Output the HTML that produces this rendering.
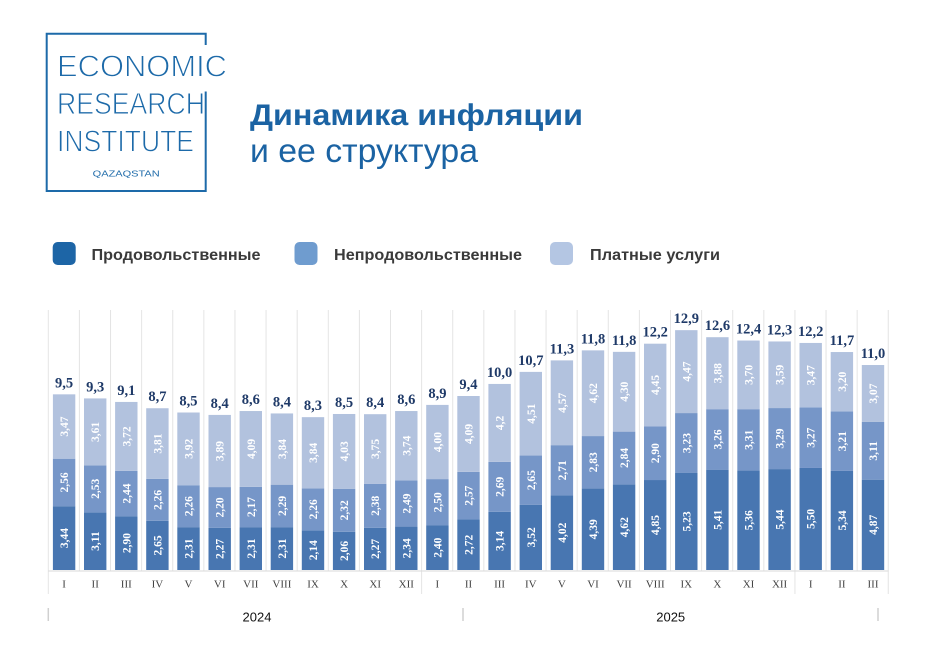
<!DOCTYPE html>
<html><head><meta charset="utf-8"><style>
html,body{margin:0;padding:0;background:#fff;}
svg{display:block;}
.d{fill:#4876b1}.m{fill:#7696c8}.l{fill:#b2c2de}
.s{font-family:"Liberation Serif",serif;font-weight:bold;font-size:11.5px;fill:#fff;text-anchor:middle}
.t{font-family:"Liberation Serif",serif;font-weight:bold;font-size:14.5px;fill:#1f3a68;text-anchor:middle}
.mo{font-family:"Liberation Serif",serif;font-size:11px;fill:#404040;text-anchor:middle}
.lg{font-family:"Liberation Sans",sans-serif;font-weight:bold;font-size:16px;fill:#3a3a3a}
.logo{font-family:"Liberation Sans",sans-serif;fill:#1d6aa9;stroke:#fff;stroke-width:0.9px}
</style></head><body>
<svg width="925" height="666" viewBox="0 0 925 666" xmlns="http://www.w3.org/2000/svg">
<rect width="925" height="666" fill="#fff"/>
<!-- logo -->
<g stroke="#1d6aa9" stroke-width="2" fill="none">
<path d="M46.7 32.7 V192 M45.7 33.7 H206.7 M45.7 191 H206.7 M205.7 32.7 V45 M205.7 91.5 V192"/>
</g>
<text class="logo" x="57" y="76.7" font-size="30.5" textLength="170" lengthAdjust="spacingAndGlyphs">ECONOMIC</text>
<text class="logo" x="57" y="114" font-size="30.5" textLength="148" lengthAdjust="spacingAndGlyphs">RESEARCH</text>
<text class="logo" x="57" y="151.7" font-size="30.5" textLength="137" lengthAdjust="spacingAndGlyphs">INSTITUTE</text>
<text x="92.7" y="176.7" font-family="Liberation Sans, sans-serif" font-size="8.5" fill="#1d6aa9" textLength="67" lengthAdjust="spacingAndGlyphs">QAZAQSTAN</text>
<!-- title -->
<text x="250" y="125" font-family="Liberation Sans, sans-serif" font-weight="bold" font-size="30" fill="#1b63a3" textLength="333" lengthAdjust="spacingAndGlyphs">Динамика инфляции</text>
<text x="250" y="162" font-family="Liberation Sans, sans-serif" font-size="33" fill="#1b63a3" textLength="228" lengthAdjust="spacingAndGlyphs">и ее структура</text>
<!-- legend -->
<rect x="52.7" y="242" width="23" height="23" rx="5" fill="#1d65a6"/>
<text class="lg" x="91.5" y="260" textLength="169" lengthAdjust="spacingAndGlyphs">Продовольственные</text>
<rect x="294.5" y="242" width="23" height="23" rx="5" fill="#6f9ccf"/>
<text class="lg" x="334" y="260" textLength="188" lengthAdjust="spacingAndGlyphs">Непродовольственные</text>
<rect x="550" y="242" width="23" height="23" rx="5" fill="#b4c6e3"/>
<text class="lg" x="590" y="260" textLength="130" lengthAdjust="spacingAndGlyphs">Платные услуги</text>
<!-- gridlines -->
<path stroke="#e4e4e4" stroke-width="1" fill="none" d="M48.3 310V594 M79.41 310V571 M110.52 310V571 M141.63 310V571 M172.74 310V571 M203.85 310V571 M234.96 310V571 M266.07 310V571 M297.18 310V571 M328.29 310V571 M359.4 310V571 M390.51 310V571 M421.62 310V594 M452.73 310V571 M483.84 310V571 M514.95 310V571 M546.06 310V571 M577.17 310V571 M608.28 310V571 M639.39 310V571 M670.5 310V571 M701.61 310V571 M732.72 310V571 M763.83 310V571 M794.94 310V594 M826.05 310V571 M857.16 310V571 M888.27 310V594"/>
<path stroke="#dadada" stroke-width="1" d="M48.3 571H888.3"/>
<!-- bars -->
<g transform="translate(52.9,0)"><rect class="d" x="0" y="506.19" width="22.4" height="63.81"/><rect class="m" x="0" y="458.70" width="22.4" height="47.49"/><rect class="l" x="0" y="394.33" width="22.4" height="64.37"/><text class="s" transform="translate(11.2,538.09) rotate(-90)" dy="0.35em">3,44</text><text class="s" transform="translate(11.2,482.45) rotate(-90)" dy="0.35em">2,56</text><text class="s" transform="translate(11.2,426.52) rotate(-90)" dy="0.35em">3,47</text><text class="t" x="11.2" y="387.3">9,5</text><text class="mo" x="11.2" y="587.7">I</text></g>
<g transform="translate(84.0,0)"><rect class="d" x="0" y="512.31" width="22.4" height="57.69"/><rect class="m" x="0" y="465.38" width="22.4" height="46.93"/><rect class="l" x="0" y="398.41" width="22.4" height="66.97"/><text class="s" transform="translate(11.2,541.16) rotate(-90)" dy="0.35em">3,11</text><text class="s" transform="translate(11.2,488.85) rotate(-90)" dy="0.35em">2,53</text><text class="s" transform="translate(11.2,431.90) rotate(-90)" dy="0.35em">3,61</text><text class="t" x="11.2" y="391.4">9,3</text><text class="mo" x="11.2" y="587.7">II</text></g>
<g transform="translate(115.1,0)"><rect class="d" x="0" y="516.20" width="22.4" height="53.80"/><rect class="m" x="0" y="470.94" width="22.4" height="45.26"/><rect class="l" x="0" y="401.94" width="22.4" height="69.00"/><text class="s" transform="translate(11.2,543.10) rotate(-90)" dy="0.35em">2,90</text><text class="s" transform="translate(11.2,493.57) rotate(-90)" dy="0.35em">2,44</text><text class="s" transform="translate(11.2,436.44) rotate(-90)" dy="0.35em">3,72</text><text class="t" x="11.2" y="394.9">9,1</text><text class="mo" x="11.2" y="587.7">III</text></g>
<g transform="translate(146.2,0)"><rect class="d" x="0" y="520.84" width="22.4" height="49.16"/><rect class="m" x="0" y="478.92" width="22.4" height="41.92"/><rect class="l" x="0" y="408.24" width="22.4" height="70.68"/><text class="s" transform="translate(11.2,545.42) rotate(-90)" dy="0.35em">2,65</text><text class="s" transform="translate(11.2,499.88) rotate(-90)" dy="0.35em">2,26</text><text class="s" transform="translate(11.2,443.58) rotate(-90)" dy="0.35em">3,81</text><text class="t" x="11.2" y="401.2">8,7</text><text class="mo" x="11.2" y="587.7">IV</text></g>
<g transform="translate(177.3,0)"><rect class="d" x="0" y="527.15" width="22.4" height="42.85"/><rect class="m" x="0" y="485.23" width="22.4" height="41.92"/><rect class="l" x="0" y="412.51" width="22.4" height="72.72"/><text class="s" transform="translate(11.2,548.57) rotate(-90)" dy="0.35em">2,31</text><text class="s" transform="translate(11.2,506.19) rotate(-90)" dy="0.35em">2,26</text><text class="s" transform="translate(11.2,448.87) rotate(-90)" dy="0.35em">3,92</text><text class="t" x="11.2" y="405.5">8,5</text><text class="mo" x="11.2" y="587.7">V</text></g>
<g transform="translate(208.5,0)"><rect class="d" x="0" y="527.89" width="22.4" height="42.11"/><rect class="m" x="0" y="487.08" width="22.4" height="40.81"/><rect class="l" x="0" y="414.92" width="22.4" height="72.16"/><text class="s" transform="translate(11.2,548.95) rotate(-90)" dy="0.35em">2,27</text><text class="s" transform="translate(11.2,507.49) rotate(-90)" dy="0.35em">2,20</text><text class="s" transform="translate(11.2,451.00) rotate(-90)" dy="0.35em">3,89</text><text class="t" x="11.2" y="407.9">8,4</text><text class="mo" x="11.2" y="587.7">VI</text></g>
<g transform="translate(239.6,0)"><rect class="d" x="0" y="527.15" width="22.4" height="42.85"/><rect class="m" x="0" y="486.90" width="22.4" height="40.25"/><rect class="l" x="0" y="411.03" width="22.4" height="75.87"/><text class="s" transform="translate(11.2,548.57) rotate(-90)" dy="0.35em">2,31</text><text class="s" transform="translate(11.2,507.03) rotate(-90)" dy="0.35em">2,17</text><text class="s" transform="translate(11.2,448.97) rotate(-90)" dy="0.35em">4,09</text><text class="t" x="11.2" y="404.0">8,6</text><text class="mo" x="11.2" y="587.7">VII</text></g>
<g transform="translate(270.7,0)"><rect class="d" x="0" y="527.15" width="22.4" height="42.85"/><rect class="m" x="0" y="484.67" width="22.4" height="42.48"/><rect class="l" x="0" y="413.44" width="22.4" height="71.23"/><text class="s" transform="translate(11.2,548.57) rotate(-90)" dy="0.35em">2,31</text><text class="s" transform="translate(11.2,505.91) rotate(-90)" dy="0.35em">2,29</text><text class="s" transform="translate(11.2,449.06) rotate(-90)" dy="0.35em">3,84</text><text class="t" x="11.2" y="406.4">8,4</text><text class="mo" x="11.2" y="587.7">VIII</text></g>
<g transform="translate(301.8,0)"><rect class="d" x="0" y="530.30" width="22.4" height="39.70"/><rect class="m" x="0" y="488.38" width="22.4" height="41.92"/><rect class="l" x="0" y="417.15" width="22.4" height="71.23"/><text class="s" transform="translate(11.2,550.15) rotate(-90)" dy="0.35em">2,14</text><text class="s" transform="translate(11.2,509.34) rotate(-90)" dy="0.35em">2,26</text><text class="s" transform="translate(11.2,452.77) rotate(-90)" dy="0.35em">3,84</text><text class="t" x="11.2" y="410.2">8,3</text><text class="mo" x="11.2" y="587.7">IX</text></g>
<g transform="translate(332.9,0)"><rect class="d" x="0" y="531.79" width="22.4" height="38.21"/><rect class="m" x="0" y="488.75" width="22.4" height="43.04"/><rect class="l" x="0" y="413.99" width="22.4" height="74.76"/><text class="s" transform="translate(11.2,550.90) rotate(-90)" dy="0.35em">2,06</text><text class="s" transform="translate(11.2,510.27) rotate(-90)" dy="0.35em">2,32</text><text class="s" transform="translate(11.2,451.37) rotate(-90)" dy="0.35em">4,03</text><text class="t" x="11.2" y="407.0">8,5</text><text class="mo" x="11.2" y="587.7">X</text></g>
<g transform="translate(364.0,0)"><rect class="d" x="0" y="527.89" width="22.4" height="42.11"/><rect class="m" x="0" y="483.74" width="22.4" height="44.15"/><rect class="l" x="0" y="414.18" width="22.4" height="69.56"/><text class="s" transform="translate(11.2,548.95) rotate(-90)" dy="0.35em">2,27</text><text class="s" transform="translate(11.2,505.82) rotate(-90)" dy="0.35em">2,38</text><text class="s" transform="translate(11.2,448.96) rotate(-90)" dy="0.35em">3,75</text><text class="t" x="11.2" y="407.2">8,4</text><text class="mo" x="11.2" y="587.7">XI</text></g>
<g transform="translate(395.1,0)"><rect class="d" x="0" y="526.59" width="22.4" height="43.41"/><rect class="m" x="0" y="480.40" width="22.4" height="46.19"/><rect class="l" x="0" y="411.03" width="22.4" height="69.37"/><text class="s" transform="translate(11.2,548.30) rotate(-90)" dy="0.35em">2,34</text><text class="s" transform="translate(11.2,503.50) rotate(-90)" dy="0.35em">2,49</text><text class="s" transform="translate(11.2,445.72) rotate(-90)" dy="0.35em">3,74</text><text class="t" x="11.2" y="404.0">8,6</text><text class="mo" x="11.2" y="587.7">XII</text></g>
<g transform="translate(426.2,0)"><rect class="d" x="0" y="525.48" width="22.4" height="44.52"/><rect class="m" x="0" y="479.10" width="22.4" height="46.38"/><rect class="l" x="0" y="404.90" width="22.4" height="74.20"/><text class="s" transform="translate(11.2,547.74) rotate(-90)" dy="0.35em">2,40</text><text class="s" transform="translate(11.2,502.29) rotate(-90)" dy="0.35em">2,50</text><text class="s" transform="translate(11.2,442.00) rotate(-90)" dy="0.35em">4,00</text><text class="t" x="11.2" y="397.9">8,9</text><text class="mo" x="11.2" y="587.7">I</text></g>
<g transform="translate(457.3,0)"><rect class="d" x="0" y="519.54" width="22.4" height="50.46"/><rect class="m" x="0" y="471.87" width="22.4" height="47.67"/><rect class="l" x="0" y="396.00" width="22.4" height="75.87"/><text class="s" transform="translate(11.2,544.77) rotate(-90)" dy="0.35em">2,72</text><text class="s" transform="translate(11.2,495.71) rotate(-90)" dy="0.35em">2,57</text><text class="s" transform="translate(11.2,433.94) rotate(-90)" dy="0.35em">4,09</text><text class="t" x="11.2" y="389.0">9,4</text><text class="mo" x="11.2" y="587.7">II</text></g>
<g transform="translate(488.4,0)"><rect class="d" x="0" y="511.75" width="22.4" height="58.25"/><rect class="m" x="0" y="461.85" width="22.4" height="49.90"/><rect class="l" x="0" y="383.94" width="22.4" height="77.91"/><text class="s" transform="translate(11.2,540.88) rotate(-90)" dy="0.35em">3,14</text><text class="s" transform="translate(11.2,486.80) rotate(-90)" dy="0.35em">2,69</text><text class="s" transform="translate(11.2,422.90) rotate(-90)" dy="0.35em">4,2</text><text class="t" x="11.2" y="376.9">10,0</text><text class="mo" x="11.2" y="587.7">III</text></g>
<g transform="translate(519.6,0)"><rect class="d" x="0" y="504.70" width="22.4" height="65.30"/><rect class="m" x="0" y="455.55" width="22.4" height="49.15"/><rect class="l" x="0" y="371.89" width="22.4" height="83.66"/><text class="s" transform="translate(11.2,537.35) rotate(-90)" dy="0.35em">3,52</text><text class="s" transform="translate(11.2,480.13) rotate(-90)" dy="0.35em">2,65</text><text class="s" transform="translate(11.2,413.72) rotate(-90)" dy="0.35em">4,51</text><text class="t" x="11.2" y="364.9">10,7</text><text class="mo" x="11.2" y="587.7">IV</text></g>
<g transform="translate(550.7,0)"><rect class="d" x="0" y="495.43" width="22.4" height="74.57"/><rect class="m" x="0" y="445.16" width="22.4" height="50.27"/><rect class="l" x="0" y="360.38" width="22.4" height="84.78"/><text class="s" transform="translate(11.2,532.72) rotate(-90)" dy="0.35em">4,02</text><text class="s" transform="translate(11.2,470.30) rotate(-90)" dy="0.35em">2,71</text><text class="s" transform="translate(11.2,402.77) rotate(-90)" dy="0.35em">4,57</text><text class="t" x="11.2" y="353.4">11,3</text><text class="mo" x="11.2" y="587.7">V</text></g>
<g transform="translate(581.8,0)"><rect class="d" x="0" y="488.57" width="22.4" height="81.43"/><rect class="m" x="0" y="436.07" width="22.4" height="52.50"/><rect class="l" x="0" y="350.37" width="22.4" height="85.70"/><text class="s" transform="translate(11.2,529.29) rotate(-90)" dy="0.35em">4,39</text><text class="s" transform="translate(11.2,462.32) rotate(-90)" dy="0.35em">2,83</text><text class="s" transform="translate(11.2,393.22) rotate(-90)" dy="0.35em">4,62</text><text class="t" x="11.2" y="343.4">11,8</text><text class="mo" x="11.2" y="587.7">VI</text></g>
<g transform="translate(612.9,0)"><rect class="d" x="0" y="484.30" width="22.4" height="85.70"/><rect class="m" x="0" y="431.62" width="22.4" height="52.68"/><rect class="l" x="0" y="351.85" width="22.4" height="79.77"/><text class="s" transform="translate(11.2,527.15) rotate(-90)" dy="0.35em">4,62</text><text class="s" transform="translate(11.2,457.96) rotate(-90)" dy="0.35em">2,84</text><text class="s" transform="translate(11.2,391.74) rotate(-90)" dy="0.35em">4,30</text><text class="t" x="11.2" y="344.9">11,8</text><text class="mo" x="11.2" y="587.7">VII</text></g>
<g transform="translate(644.0,0)"><rect class="d" x="0" y="480.03" width="22.4" height="89.97"/><rect class="m" x="0" y="426.24" width="22.4" height="53.79"/><rect class="l" x="0" y="343.69" width="22.4" height="82.55"/><text class="s" transform="translate(11.2,525.02) rotate(-90)" dy="0.35em">4,85</text><text class="s" transform="translate(11.2,453.14) rotate(-90)" dy="0.35em">2,90</text><text class="s" transform="translate(11.2,384.97) rotate(-90)" dy="0.35em">4,45</text><text class="t" x="11.2" y="336.7">12,2</text><text class="mo" x="11.2" y="587.7">VIII</text></g>
<g transform="translate(675.1,0)"><rect class="d" x="0" y="472.98" width="22.4" height="97.02"/><rect class="m" x="0" y="413.07" width="22.4" height="59.91"/><rect class="l" x="0" y="330.15" width="22.4" height="82.92"/><text class="s" transform="translate(11.2,521.49) rotate(-90)" dy="0.35em">5,23</text><text class="s" transform="translate(11.2,443.03) rotate(-90)" dy="0.35em">3,23</text><text class="s" transform="translate(11.2,371.61) rotate(-90)" dy="0.35em">4,47</text><text class="t" x="11.2" y="323.2">12,9</text><text class="mo" x="11.2" y="587.7">IX</text></g>
<g transform="translate(706.2,0)"><rect class="d" x="0" y="469.64" width="22.4" height="100.36"/><rect class="m" x="0" y="409.17" width="22.4" height="60.47"/><rect class="l" x="0" y="337.20" width="22.4" height="71.97"/><text class="s" transform="translate(11.2,519.82) rotate(-90)" dy="0.35em">5,41</text><text class="s" transform="translate(11.2,439.41) rotate(-90)" dy="0.35em">3,26</text><text class="s" transform="translate(11.2,373.19) rotate(-90)" dy="0.35em">3,88</text><text class="t" x="11.2" y="330.2">12,6</text><text class="mo" x="11.2" y="587.7">X</text></g>
<g transform="translate(737.3,0)"><rect class="d" x="0" y="470.57" width="22.4" height="99.43"/><rect class="m" x="0" y="409.17" width="22.4" height="61.40"/><rect class="l" x="0" y="340.54" width="22.4" height="68.63"/><text class="s" transform="translate(11.2,520.29) rotate(-90)" dy="0.35em">5,36</text><text class="s" transform="translate(11.2,439.87) rotate(-90)" dy="0.35em">3,31</text><text class="s" transform="translate(11.2,374.86) rotate(-90)" dy="0.35em">3,70</text><text class="t" x="11.2" y="333.5">12,4</text><text class="mo" x="11.2" y="587.7">XI</text></g>
<g transform="translate(768.4,0)"><rect class="d" x="0" y="469.09" width="22.4" height="100.91"/><rect class="m" x="0" y="408.06" width="22.4" height="61.03"/><rect class="l" x="0" y="341.46" width="22.4" height="66.60"/><text class="s" transform="translate(11.2,519.55) rotate(-90)" dy="0.35em">5,44</text><text class="s" transform="translate(11.2,438.58) rotate(-90)" dy="0.35em">3,29</text><text class="s" transform="translate(11.2,374.76) rotate(-90)" dy="0.35em">3,59</text><text class="t" x="11.2" y="334.5">12,3</text><text class="mo" x="11.2" y="587.7">XII</text></g>
<g transform="translate(799.5,0)"><rect class="d" x="0" y="467.97" width="22.4" height="102.03"/><rect class="m" x="0" y="407.32" width="22.4" height="60.65"/><rect class="l" x="0" y="342.95" width="22.4" height="64.37"/><text class="s" transform="translate(11.2,518.99) rotate(-90)" dy="0.35em">5,50</text><text class="s" transform="translate(11.2,437.65) rotate(-90)" dy="0.35em">3,27</text><text class="s" transform="translate(11.2,375.14) rotate(-90)" dy="0.35em">3,47</text><text class="t" x="11.2" y="336.0">12,2</text><text class="mo" x="11.2" y="587.7">I</text></g>
<g transform="translate(830.7,0)"><rect class="d" x="0" y="470.94" width="22.4" height="99.06"/><rect class="m" x="0" y="411.40" width="22.4" height="59.54"/><rect class="l" x="0" y="352.04" width="22.4" height="59.36"/><text class="s" transform="translate(11.2,520.47) rotate(-90)" dy="0.35em">5,34</text><text class="s" transform="translate(11.2,441.17) rotate(-90)" dy="0.35em">3,21</text><text class="s" transform="translate(11.2,381.72) rotate(-90)" dy="0.35em">3,20</text><text class="t" x="11.2" y="345.0">11,7</text><text class="mo" x="11.2" y="587.7">II</text></g>
<g transform="translate(861.8,0)"><rect class="d" x="0" y="479.66" width="22.4" height="90.34"/><rect class="m" x="0" y="421.97" width="22.4" height="57.69"/><rect class="l" x="0" y="365.02" width="22.4" height="56.95"/><text class="s" transform="translate(11.2,524.83) rotate(-90)" dy="0.35em">4,87</text><text class="s" transform="translate(11.2,450.82) rotate(-90)" dy="0.35em">3,11</text><text class="s" transform="translate(11.2,393.50) rotate(-90)" dy="0.35em">3,07</text><text class="t" x="11.2" y="358.0">11,0</text><text class="mo" x="11.2" y="587.7">III</text></g>
<!-- year axis -->
<path stroke="#d0d0d0" stroke-width="1.5" d="M48.3 608V621 M463 608V621 M878 608V621"/>
<text x="257" y="621.5" font-family="Liberation Sans, sans-serif" font-size="13" fill="#111" text-anchor="middle">2024</text>
<text x="670.7" y="621.5" font-family="Liberation Sans, sans-serif" font-size="13" fill="#111" text-anchor="middle">2025</text>
</svg>
</body></html>
